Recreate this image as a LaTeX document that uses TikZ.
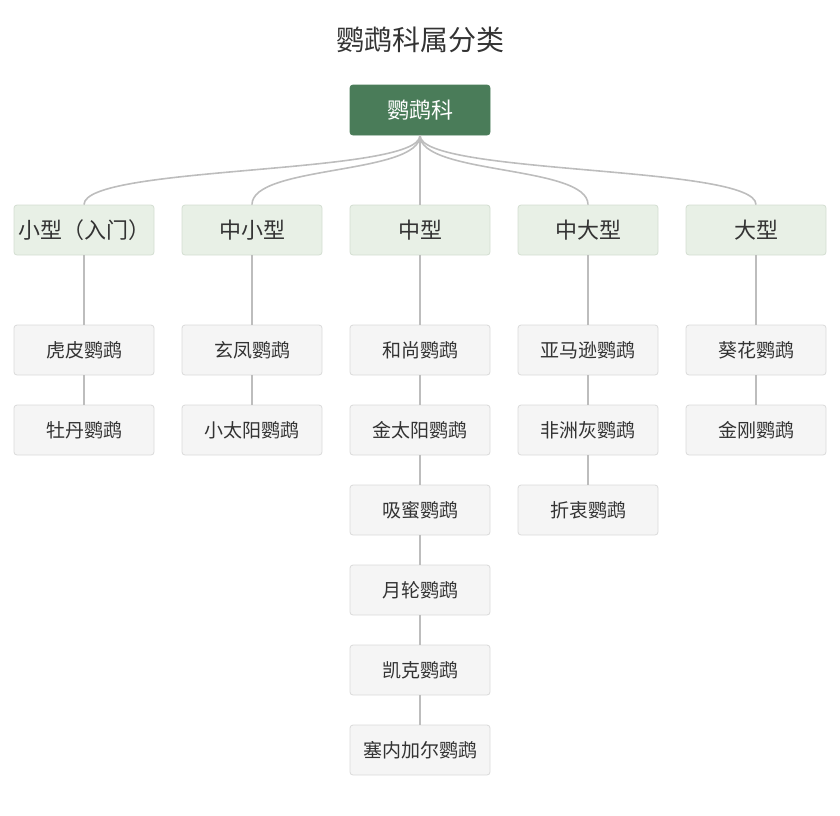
\documentclass[tikz,border=0pt]{standalone}
\usepackage{fontspec}
\setmainfont{Noto Sans CJK SC}
\begin{document}
\begin{tikzpicture}[x=1pt,y=-1pt,
  box/.style={draw=#1,rounded corners=3pt,minimum width=140pt,minimum height=50pt,inner sep=0pt,line width=0.8pt},
  root/.style={box=rootc,fill=rootc,text=white,font=\fontsize{22}{26}\selectfont},
  cat/.style={box=catb,fill=catc,text=txt,font=\fontsize{22}{26}\selectfont},
  leaf/.style={box=leafb,fill=leafc,text=txt,font=\fontsize{19}{23}\selectfont},
  ln/.style={draw=linec,line width=1.6pt}]
\definecolor{rootc}{HTML}{4A7C59}
\definecolor{catc}{HTML}{E8F0E6}
\definecolor{catb}{HTML}{D4DED2}
\definecolor{leafc}{HTML}{F5F5F5}
\definecolor{leafb}{HTML}{DADADA}
\definecolor{linec}{HTML}{BDBDBD}
\definecolor{txt}{HTML}{333333}
\useasboundingbox (0,0) rectangle (840,815);
\node[text=txt,font=\fontsize{28}{32}\selectfont] (title) at (420,40) {鹦鹉科属分类};
\node[root] (r) at (420,110) {鹦鹉科};
\node[cat] (c1) at (84,230) {小型（入门）};
\node[cat] (c2) at (252,230) {中小型};
\node[cat] (c3) at (420,230) {中型};
\node[cat] (c4) at (588,230) {中大型};
\node[cat] (c5) at (756,230) {大型};
\foreach \c in {c1,c2,c3,c4,c5}
  \draw[ln] (r.south) .. controls (420,175) and (\c.north |- 0,165) .. (\c.north);
\node[leaf] (a1) at (84,350) {虎皮鹦鹉};
\node[leaf] (a2) at (84,430) {牡丹鹦鹉};
\node[leaf] (b1) at (252,350) {玄凤鹦鹉};
\node[leaf] (b2) at (252,430) {小太阳鹦鹉};
\node[leaf] (m1) at (420,350) {和尚鹦鹉};
\node[leaf] (m2) at (420,430) {金太阳鹦鹉};
\node[leaf] (m3) at (420,510) {吸蜜鹦鹉};
\node[leaf] (m4) at (420,590) {月轮鹦鹉};
\node[leaf] (m5) at (420,670) {凯克鹦鹉};
\node[leaf] (m6) at (420,750) {塞内加尔鹦鹉};
\node[leaf] (d1) at (588,350) {亚马逊鹦鹉};
\node[leaf] (d2) at (588,430) {非洲灰鹦鹉};
\node[leaf] (d3) at (588,510) {折衷鹦鹉};
\node[leaf] (e1) at (756,350) {葵花鹦鹉};
\node[leaf] (e2) at (756,430) {金刚鹦鹉};
\foreach \p/\q in {c1/a1,a1/a2,c2/b1,b1/b2,c3/m1,m1/m2,m2/m3,m3/m4,m4/m5,m5/m6,c4/d1,d1/d2,d2/d3,c5/e1,e1/e2}
  \draw[ln] (\p.south) -- (\q.north);
\end{tikzpicture}
\end{document}
